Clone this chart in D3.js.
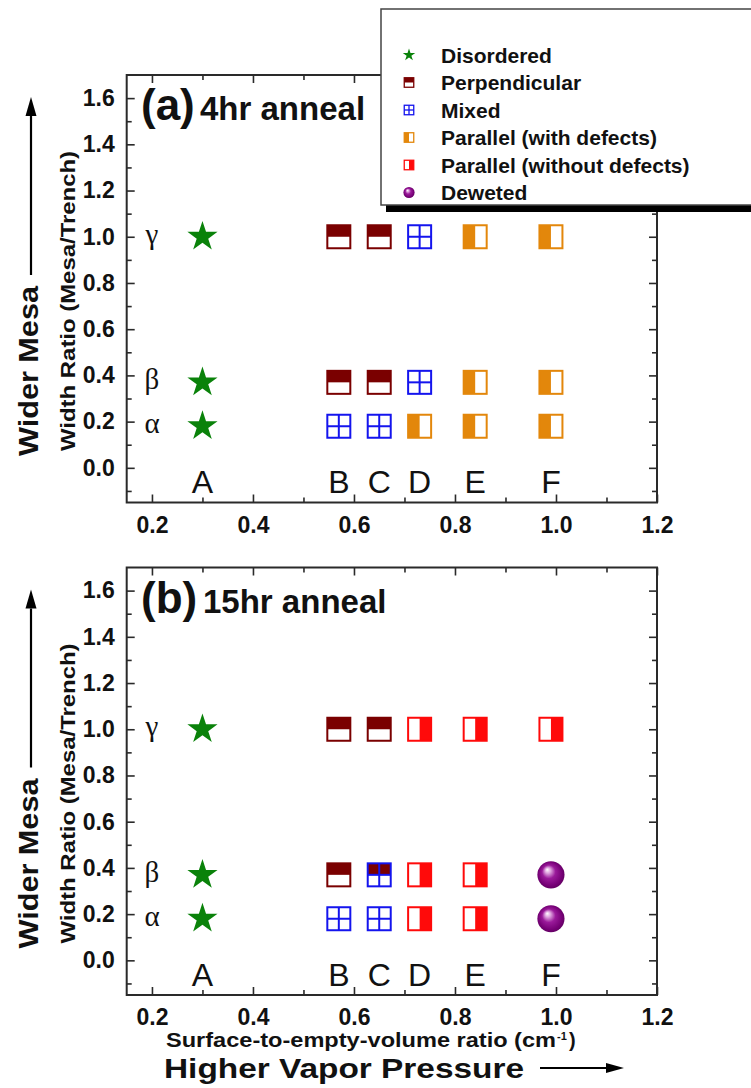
<!DOCTYPE html>
<html>
<head>
<meta charset="utf-8">
<script src="https://cdn.jsdelivr.net/npm/d3@7"></script>
<style>
  html, body { margin: 0; padding: 0; background: #fff; }
  svg { display: block; }
  text { font-family: "Liberation Sans", Arial, Helvetica, sans-serif; fill: #111; }
</style>
</head>
<body>
<svg id="chart" width="751" height="1088"></svg>
<script>
// ---- data ---------------------------------------------------------------
const categories = ["A", "B", "C", "D", "E", "F"];
const categoryX = [0.30, 0.57, 0.65, 0.73, 0.84, 0.99];   // surface-to-empty-volume ratio
const rowLabels = ["γ", "β", "α"];
const rowY = [1.00, 0.37, 0.18];                           // mesa/trench width ratio

// morphology per row (γ, β, α) and per category (A–F)
const phases4hr = [
  ["disordered", "perpendicular", "perpendicular", "mixed", "parallelDefects", "parallelDefects"],
  ["disordered", "perpendicular", "perpendicular", "mixed", "parallelDefects", "parallelDefects"],
  ["disordered", "mixed", "mixed", "parallelDefects", "parallelDefects", "parallelDefects"]
];
const phases15hr = [
  ["disordered", "perpendicular", "perpendicular", "parallelClean", "parallelClean", "parallelClean"],
  ["disordered", "perpendicular", "mixedPerpendicular", "parallelClean", "parallelClean", "dewetted"],
  ["disordered", "mixed", "mixed", "parallelClean", "parallelClean", "dewetted"]
];

const xMajorTicks = [0.2, 0.4, 0.6, 0.8, 1.0, 1.2];
const xMinorTicks = [0.3, 0.5, 0.7, 0.9, 1.1];
const yMajorTicks = [0.0, 0.2, 0.4, 0.6, 0.8, 1.0, 1.2, 1.4, 1.6];
const yMinorTicks = [-0.1, 0.1, 0.3, 0.5, 0.7, 0.9, 1.1, 1.3, 1.5];

const legendTypes = ["disordered", "perpendicular", "mixed", "parallelDefects", "parallelClean", "dewetted"];
const legendLabels = ["Disordered", "Perpendicular", "Mixed", "Parallel (with defects)", "Parallel (without defects)", "Deweted"];

const panelTags = ["(a)", "(b)"];
const panelTitles = ["4hr anneal", "15hr anneal"];
const panelPhases = [phases4hr, phases15hr];

// ---- styling --------------------------------------------------------------
const COLORS = {
  green: "#0a820a",
  maroon: "#7a0000",
  blue: "#1414ee",
  orange: "#e3870b",
  red: "#ff0a0a",
  purple: "#800080",
  axis: "#2a2a2a"
};

const svg = d3.select("#chart");
const W = 751;
const plotLeft = 126.7, plotRight = 657;
const panelTops = [75, 567.5];
const panelH = 427.5;

// gradient for the dewetted droplet
const defs = svg.append("defs");
const grad = defs.append("radialGradient").attr("id", "sphere")
  .attr("cx", "50%").attr("cy", "50%").attr("r", "55%")
  .attr("fx", "36%").attr("fy", "30%");
grad.append("stop").attr("offset", "0%").attr("stop-color", "#ffffff");
grad.append("stop").attr("offset", "18%").attr("stop-color", "#e0a8e0");
grad.append("stop").attr("offset", "45%").attr("stop-color", "#9a1a9a");
grad.append("stop").attr("offset", "80%").attr("stop-color", "#760076");
grad.append("stop").attr("offset", "100%").attr("stop-color", "#5a005a");

svg.append("rect").attr("width", W).attr("height", 1088).attr("fill", "#fff");

// ---- marker glyphs --------------------------------------------------------
function drawMarker(g, type, s, sw) {
  const h = s / 2;
  const box = (color) => g.append("rect")
    .attr("x", -h).attr("y", -h).attr("width", s).attr("height", s)
    .attr("fill", "none").attr("stroke", color).attr("stroke-width", sw);
  const whiteBg = () => g.append("rect")
    .attr("x", -h).attr("y", -h).attr("width", s).attr("height", s).attr("fill", "#fff");
  const grid = (color) => {
    g.append("line").attr("x1", 0).attr("x2", 0).attr("y1", -h).attr("y2", h)
      .attr("stroke", color).attr("stroke-width", sw);
    g.append("line").attr("x1", -h).attr("x2", h).attr("y1", 0).attr("y2", 0)
      .attr("stroke", color).attr("stroke-width", sw);
  };
  switch (type) {
    case "disordered": {
      const R = 0.69 * s;                       // outer radius of the star
      const area = R * R / 0.8908130915292852;  // d3.symbolStar sizing
      g.append("path").attr("d", d3.symbol(d3.symbolStar, area)())
        .attr("fill", COLORS.green);
      break;
    }
    case "perpendicular":
      whiteBg();
      g.append("rect").attr("x", -h).attr("y", -h).attr("width", s).attr("height", h)
        .attr("fill", COLORS.maroon);
      box(COLORS.maroon);
      break;
    case "mixed":
      whiteBg();
      grid(COLORS.blue);
      box(COLORS.blue);
      break;
    case "mixedPerpendicular":
      whiteBg();
      g.append("rect").attr("x", -h).attr("y", -h).attr("width", s).attr("height", h)
        .attr("fill", COLORS.maroon);
      grid(COLORS.blue);
      box(COLORS.blue);
      break;
    case "parallelDefects":
      whiteBg();
      g.append("rect").attr("x", -h).attr("y", -h).attr("width", h).attr("height", s)
        .attr("fill", COLORS.orange);
      box(COLORS.orange);
      break;
    case "parallelClean":
      whiteBg();
      g.append("rect").attr("x", 0).attr("y", -h).attr("width", h).attr("height", s)
        .attr("fill", COLORS.red);
      box(COLORS.red);
      break;
    case "dewetted":
      g.append("circle").attr("r", 0.59 * s).attr("fill", "url(#sphere)");
      break;
  }
}

function arrow(x1, y1, x2, y2, headLen, headW) {
  const ang = Math.atan2(y2 - y1, x2 - x1);
  const bx = x2 - headLen * Math.cos(ang), by = y2 - headLen * Math.sin(ang);
  svg.append("line").attr("x1", x1).attr("y1", y1).attr("x2", bx).attr("y2", by)
    .attr("stroke", "#000").attr("stroke-width", 2.2);
  const px = -Math.sin(ang) * headW / 2, py = Math.cos(ang) * headW / 2;
  svg.append("path")
    .attr("d", `M${x2},${y2}L${bx + px},${by + py}L${bx - px},${by - py}Z`)
    .attr("fill", "#000");
}

// ---- panels ---------------------------------------------------------------
const x = d3.scaleLinear().domain([0.15, 1.2]).range([plotLeft, plotRight]);

panelTops.forEach((top, pi) => {
  const y = d3.scaleLinear().domain([-0.15, 1.7]).range([top + panelH, top]);
  const bottom = top + panelH;
  const g = svg.append("g");

  const styleAxis = (sel) => {
    sel.select(".domain").remove();
    sel.selectAll(".tick line").attr("stroke", COLORS.axis).attr("stroke-width", 1.6);
    sel.selectAll("text").attr("font-size", 23).attr("font-weight", "bold").attr("fill", "#111");
  };

  // major ticks (with labels on bottom/left) and minor ticks, all pointing inward
  g.append("g").attr("transform", `translate(0,${bottom})`)
    .call(d3.axisBottom(x).tickValues(xMajorTicks).tickSize(-8).tickPadding(14).tickFormat(d3.format(".1f")))
    .call(styleAxis);
  g.append("g").attr("transform", `translate(0,${bottom})`)
    .call(d3.axisBottom(x).tickValues(xMinorTicks).tickSize(-5).tickFormat(""))
    .call(styleAxis);
  g.append("g").attr("transform", `translate(0,${top})`)
    .call(d3.axisTop(x).tickValues(xMajorTicks).tickSize(-8).tickFormat(""))
    .call(styleAxis);
  g.append("g").attr("transform", `translate(0,${top})`)
    .call(d3.axisTop(x).tickValues(xMinorTicks).tickSize(-5).tickFormat(""))
    .call(styleAxis);
  g.append("g").attr("transform", `translate(${plotLeft},0)`)
    .call(d3.axisLeft(y).tickValues(yMajorTicks).tickSize(-8).tickPadding(12).tickFormat(d3.format(".1f")))
    .call(styleAxis);
  g.append("g").attr("transform", `translate(${plotLeft},0)`)
    .call(d3.axisLeft(y).tickValues(yMinorTicks).tickSize(-5).tickFormat(""))
    .call(styleAxis);
  g.append("g").attr("transform", `translate(${plotRight},0)`)
    .call(d3.axisRight(y).tickValues(yMajorTicks).tickSize(-8).tickFormat(""))
    .call(styleAxis);
  g.append("g").attr("transform", `translate(${plotRight},0)`)
    .call(d3.axisRight(y).tickValues(yMinorTicks).tickSize(-5).tickFormat(""))
    .call(styleAxis);

  g.append("rect")
    .attr("x", plotLeft).attr("y", top)
    .attr("width", plotRight - plotLeft).attr("height", panelH)
    .attr("fill", "none").attr("stroke", COLORS.axis).attr("stroke-width", 2);

  // panel heading
  g.append("text").attr("x", 141).attr("y", top + 45)
    .attr("font-size", 44).attr("font-weight", "bold").text(panelTags[pi]);
  g.append("text").attr("x", pi === 0 ? 200 : 203).attr("y", top + 45)
    .attr("font-size", 33).attr("font-weight", "bold").text(panelTitles[pi]);

  // row labels (Greek)
  rowLabels.forEach((lab, ri) => {
    g.append("text").attr("x", 152).attr("y", y(rowY[ri]) + 7)
      .attr("text-anchor", "middle")
      .style("font-family", "'Liberation Serif', 'Times New Roman', serif")
      .attr("font-size", 29).text(lab);
  });

  // category letters
  categories.forEach((c, ci) => {
    g.append("text").attr("x", x(categoryX[ci])).attr("y", y(0) + 25.5)
      .attr("text-anchor", "middle").attr("font-size", 32).text(c);
  });

  // markers
  panelPhases[pi].forEach((row, ri) => {
    row.forEach((type, ci) => {
      const mg = g.append("g")
        .attr("transform", `translate(${x(categoryX[ci])},${y(rowY[ri])})`);
      drawMarker(mg, type, 23, 2);
    });
  });

  // y-axis titles
  g.append("text")
    .attr("transform", `translate(75,${top + 226}) rotate(-90)`)
    .attr("text-anchor", "middle").attr("font-size", 21).attr("font-weight", "bold")
    .attr("textLength", 300).attr("lengthAdjust", "spacingAndGlyphs")
    .text("Width Ratio (Mesa/Trench)");
  g.append("text")
    .attr("transform", `translate(38,${top + 381}) rotate(-90)`)
    .attr("font-size", 27).attr("font-weight", "bold")
    .attr("textLength", 170).attr("lengthAdjust", "spacingAndGlyphs")
    .text("Wider Mesa");
  arrow(31, top + 200, 31, top + 22, 19, 11);
});

// ---- x-axis titles (bottom) -----------------------------------------------
svg.append("text").attr("x", 166).attr("y", 1047)
  .attr("font-size", 20).attr("font-weight", "bold")
  .attr("textLength", 390).attr("lengthAdjust", "spacingAndGlyphs")
  .text("Surface-to-empty-volume ratio (cm");
svg.append("text").attr("x", 557).attr("y", 1040)
  .attr("font-size", 11).attr("font-weight", "bold").text("-1");
svg.append("text").attr("x", 569).attr("y", 1047)
  .attr("font-size", 20).attr("font-weight", "bold").text(")");

svg.append("text").attr("x", 164).attr("y", 1078)
  .attr("font-size", 28).attr("font-weight", "bold")
  .attr("textLength", 360).attr("lengthAdjust", "spacingAndGlyphs")
  .text("Higher Vapor Pressure");
arrow(540, 1068, 624, 1068, 18, 10);

// ---- legend ---------------------------------------------------------------
const lg = svg.append("g");
lg.append("rect").attr("x", 386).attr("y", 205).attr("width", 380).attr("height", 7).attr("fill", "#000");
lg.append("rect").attr("x", 381).attr("y", 9).attr("width", 380).attr("height", 196)
  .attr("fill", "#fff").attr("stroke", "#444").attr("stroke-width", 1.5);
legendTypes.forEach((type, i) => {
  const cy = 55 + i * 27.5;
  const mg = lg.append("g").attr("transform", `translate(409,${cy})`);
  drawMarker(mg, type, 9.5, 1.3);
  lg.append("text").attr("x", 441).attr("y", cy + 7.5)
    .attr("font-size", 21).attr("font-weight", "bold").text(legendLabels[i]);
});
</script>
</body>
</html>
